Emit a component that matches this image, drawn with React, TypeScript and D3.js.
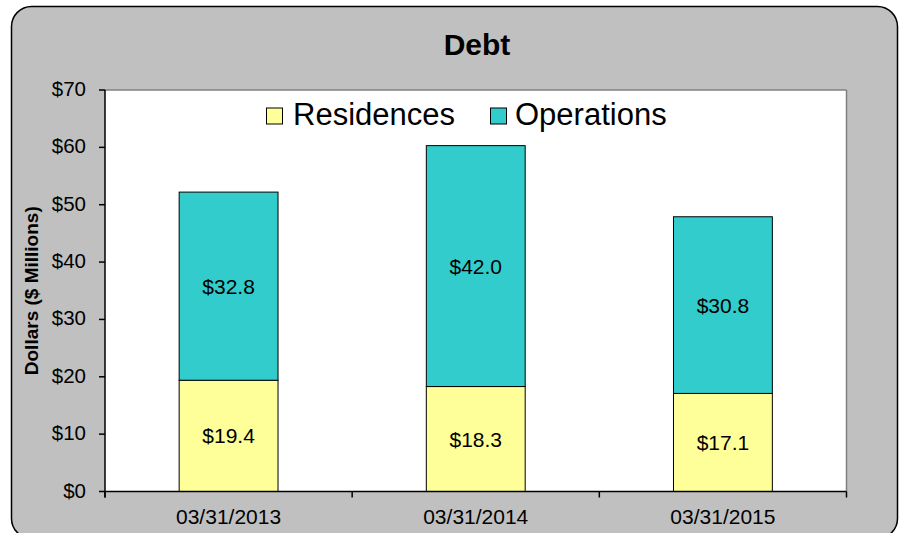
import React from "react";
import * as d3 from "d3";

const categories = ["03/31/2013", "03/31/2014", "03/31/2015"];
const residences = [19.4, 18.3, 17.1];
const operations = [32.8, 42.0, 30.8];
const seriesNames = ["Residences", "Operations"];
const seriesColors = ["#FFFF99", "#33CCCC"];
const yTicks = [0, 10, 20, 30, 40, 50, 60, 70];

const W = 901;
const H = 533;
const plot = { left: 105, right: 846.5, top: 90, bottom: 491.5 };
const FONT = "Arial, 'Liberation Sans', Helvetica, sans-serif";

export default function App() {
  const x = d3
    .scaleBand<string>()
    .domain(categories)
    .range([plot.left, plot.right])
    .paddingInner(0)
    .paddingOuter(0);
  const y = d3.scaleLinear().domain([0, 70]).range([plot.bottom, plot.top]);
  const barW = x.bandwidth() * 0.4;

  const stacked = categories.map((c, i) => {
    const r0 = 0;
    const r1 = residences[i];
    const o1 = r1 + operations[i];
    return [
      { c, v: residences[i], y0: r0, y1: r1, color: seriesColors[0] },
      { c, v: operations[i], y0: r1, y1: o1, color: seriesColors[1] },
    ];
  });

  const fmt = (v: number) => "$" + v.toFixed(1);
  const boundaries = [plot.left, ...categories.map((c) => (x(c) as number) + x.bandwidth())];

  return (
    <svg
      width={W}
      height={H}
      style={{ position: "absolute", left: 0, top: 0, fontFamily: FONT }}
    >
      <rect x={0} y={0} width={W} height={H} fill="#ffffff" />
      <rect
        x={11.5}
        y={6.5}
        width={886}
        height={532}
        rx={20}
        ry={20}
        fill="#C0C0C0"
        stroke="#000"
        strokeWidth={1.5}
      />
      <text x={477} y={54.5} textAnchor="middle" fontSize={30} fontWeight="bold" fill="#000">
        Debt
      </text>

      {/* plot area */}
      <rect
        x={plot.left}
        y={plot.top}
        width={plot.right - plot.left}
        height={plot.bottom - plot.top}
        fill="#fff"
      />
      <line x1={plot.left} x2={plot.right} y1={plot.top} y2={plot.top} stroke="#808080" strokeWidth={1.5} />
      <line x1={plot.right} x2={plot.right} y1={plot.top} y2={plot.bottom} stroke="#808080" strokeWidth={1.5} />

      {/* bars */}
      {stacked.map((segs, i) =>
        segs.map((s, j) => {
          const cx = (x(s.c) as number) + x.bandwidth() / 2;
          const yTop = y(s.y1);
          const yBot = y(s.y0);
          return (
            <g key={`${i}-${j}`}>
              <rect
                x={cx - barW / 2}
                y={yTop}
                width={barW}
                height={yBot - yTop}
                fill={s.color}
                stroke="#000"
                strokeWidth={1}
              />
              <text
                x={cx}
                y={(yTop + yBot) / 2 + 7.5}
                textAnchor="middle"
                fontSize={21}
                fill="#000"
              >
                {fmt(s.v)}
              </text>
            </g>
          );
        })
      )}

      {/* y axis */}
      <line x1={plot.left} x2={plot.left} y1={plot.top} y2={plot.bottom + 6} stroke="#000" strokeWidth={1.5} />
      {yTicks.map((t) => (
        <g key={t}>
          <line x1={plot.left - 6} x2={plot.left} y1={y(t)} y2={y(t)} stroke="#000" strokeWidth={1.5} />
          <text x={86} y={y(t) + 6} textAnchor="end" fontSize={20.5} fill="#000">
            {"$" + t}
          </text>
        </g>
      ))}
      <text
        transform={`translate(38,${(plot.top + plot.bottom) / 2}) rotate(-90)`}
        textAnchor="middle"
        fontSize={19}
        fontWeight="bold"
        fill="#000"
      >
        Dollars ($ Millions)
      </text>

      {/* x axis */}
      <line x1={plot.left} x2={plot.right} y1={plot.bottom} y2={plot.bottom} stroke="#000" strokeWidth={1.5} />
      {boundaries.map((b, i) => (
        <line key={i} x1={b} x2={b} y1={plot.bottom} y2={plot.bottom + 6} stroke="#000" strokeWidth={1.5} />
      ))}
      {categories.map((c) => (
        <text
          key={c}
          x={(x(c) as number) + x.bandwidth() / 2}
          y={523.5}
          textAnchor="middle"
          fontSize={21}
          fill="#000"
        >
          {c}
        </text>
      ))}

      {/* legend */}
      <g>
        <rect x={266.5} y={108} width={16} height={16} fill={seriesColors[0]} stroke="#000" strokeWidth={1} />
        <text x={293} y={125} fontSize={31} fill="#000">
          {seriesNames[0]}
        </text>
        <rect x={490.5} y={108} width={16} height={16} fill={seriesColors[1]} stroke="#000" strokeWidth={1} />
        <text x={515} y={125} fontSize={31} fill="#000">
          {seriesNames[1]}
        </text>
      </g>
    </svg>
  );
}
